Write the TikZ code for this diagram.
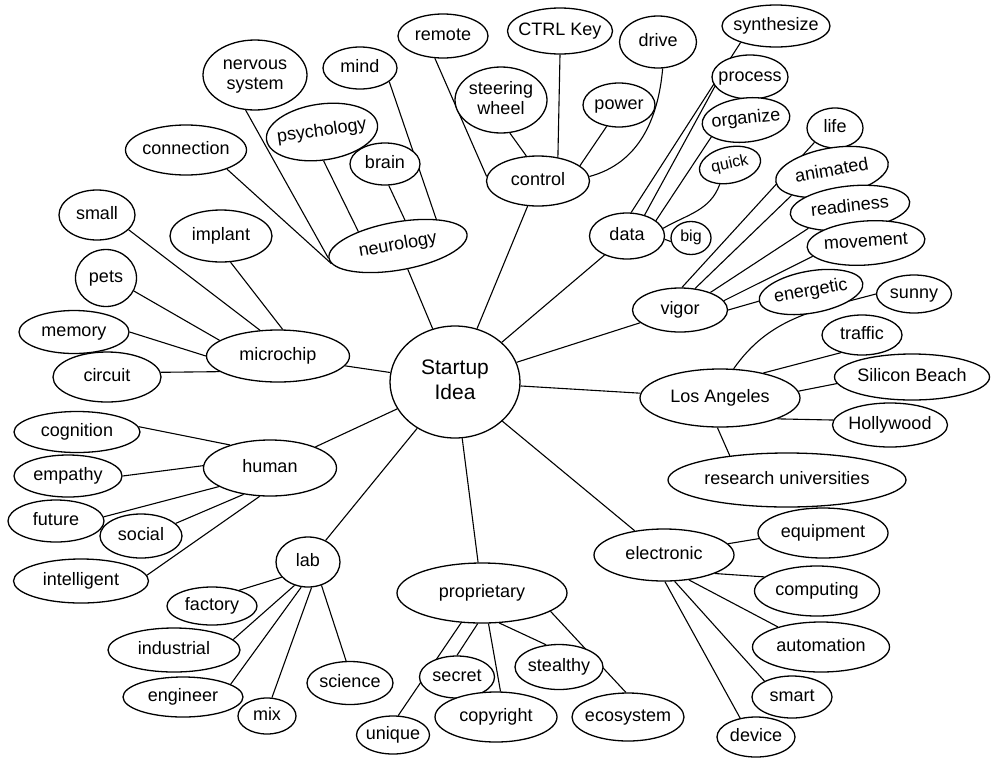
\documentclass[tikz,border=0pt]{standalone}
\usepackage{fontspec}
\setmainfont{Liberation Sans}
\usetikzlibrary{shapes.geometric,backgrounds}

% text that does not stretch the bubble
\newcommand{\word}[1]{\makebox[0pt]{\begin{tabular}{@{}c@{}}#1\end{tabular}}}

\tikzset{
  bubble/.style={draw, fill=white, ellipse, line width=1.3pt, inner sep=0pt,
    font=\fontsize{18}{20}\selectfont},
  sz/.style 2 args={minimum width=#1, minimum height=#2},
  link/.style={line width=1.1pt},
}

\begin{document}
\begin{tikzpicture}[x=1pt, y=-1pt]
    \useasboundingbox (0,0) rectangle (995,758);

    % centre
    \node[bubble, sz={130}{112}, font=\fontsize{21}{25}\selectfont] (idea) at (455,382) {\word{Startup\\Idea}};

    % branches
    \node[bubble, sz={140}{48}, rotate=10] (neuro) at (398,246) {\word{neurology}};
    \node[bubble, sz={103}{50}] (control) at (538,181) {\word{control}};
    \node[bubble, sz={75}{46}] (data) at (627,236) {\word{data}};
    \node[bubble, sz={95}{44}] (vigor) at (680,310) {\word{vigor}};
    \node[bubble, sz={160}{58}] (la) at (720,398) {\word{Los Angeles}};
    \node[bubble, sz={140}{52}] (elec) at (664,555) {\word{electronic}};
    \node[bubble, sz={170}{60}] (prop) at (482,593) {\word{proprietary}};
    \node[bubble, sz={64}{50}] (lab) at (308,562) {\word{lab}};
    \node[bubble, sz={133}{56}] (human) at (270,468) {\word{human}};
    \node[bubble, sz={143}{52}] (chip) at (278,356) {\word{microchip}};

    % neurology
    \node[bubble, sz={104}{70}] (nervous) at (255,75) {\word{nervous\\system}};
    \node[bubble, sz={74}{42}] (mind) at (360,68) {\word{mind}};
    \node[bubble, sz={112}{56}, rotate=8] (psych) at (322,132) {\word{psychology}};
    \node[bubble, sz={70}{42}] (brain) at (385,164) {\word{brain}};
    \node[bubble, sz={121}{50}] (connect) at (186,150) {\word{connection}};

    % control
    \node[bubble, sz={90}{44}] (remote) at (443,36) {\word{remote}};
    \node[bubble, sz={105}{46}] (ctrl) at (560,31) {\word{CTRL Key}};
    \node[bubble, sz={77}{52}] (drive) at (658,42) {\word{drive}};
    \node[bubble, sz={92}{66}] (steer) at (501,100) {\word{steering\\wheel}};
    \node[bubble, sz={72}{44}] (power) at (619,105) {\word{power}};

    % data
    \node[bubble, sz={108}{42}] (synth) at (776,26) {\word{synthesize}};
    \node[bubble, sz={76}{44}] (process) at (750,77) {\word{process}};
    \node[bubble, sz={88}{44}, rotate=6] (organize) at (746,120) {\word{organize}};
    \node[bubble, sz={62}{36}, rotate=12, font=\fontsize{16}{18}\selectfont] (quick) at (730,165) {\word{quick}};
    \node[bubble, sz={40}{33}, font=\fontsize{16}{18}\selectfont] (big) at (691,238) {\word{big}};

    % vigor
    \node[bubble, sz={56}{40}] (life) at (835,128) {\word{life}};
    \node[bubble, sz={114}{48}, rotate=10] (animated) at (832,172) {\word{animated}};
    \node[bubble, sz={120}{44}, rotate=6] (ready) at (850,208) {\word{readiness}};
    \node[bubble, sz={118}{44}, rotate=4] (move) at (866,243) {\word{movement}};
    \node[bubble, sz={105}{42}, rotate=10] (energy) at (811,292) {\word{energetic}};

    % Los Angeles
    \node[bubble, sz={75}{38}] (sunny) at (914,294) {\word{sunny}};
    \node[bubble, sz={80}{40}] (traffic) at (862,335) {\word{traffic}};
    \node[bubble, sz={155}{46}] (beach) at (912,377) {\word{Silicon Beach}};
    \node[bubble, sz={115}{44}] (holly) at (890,425) {\word{Hollywood}};
    \node[bubble, sz={238}{54}] (research) at (787,480) {\word{research universities}};

    % electronic
    \node[bubble, sz={130}{50}] (equip) at (823,533) {\word{equipment}};
    \node[bubble, sz={125}{50}] (comput) at (817,591) {\word{computing}};
    \node[bubble, sz={137}{50}] (auto) at (821,647) {\word{automation}};
    \node[bubble, sz={80}{42}] (smart) at (792,697) {\word{smart}};
    \node[bubble, sz={78}{40}] (device) at (756,737) {\word{device}};

    % proprietary
    \node[bubble, sz={73}{38}] (unique) at (393,735) {\word{unique}};
    \node[bubble, sz={75}{42}] (secret) at (457,677) {\word{secret}};
    \node[bubble, sz={122}{50}] (copy) at (496,717) {\word{copyright}};
    \node[bubble, sz={88}{45}] (stealth) at (559,667) {\word{stealthy}};
    \node[bubble, sz={112}{48}] (eco) at (628,717) {\word{ecosystem}};

    % lab
    \node[bubble, sz={90}{38}] (factory) at (212,606) {\word{factory}};
    \node[bubble, sz={132}{44}] (indust) at (174,650) {\word{industrial}};
    \node[bubble, sz={120}{40}] (engin) at (183,697) {\word{engineer}};
    \node[bubble, sz={58}{36}] (mix) at (267,716) {\word{mix}};
    \node[bubble, sz={86}{43}] (science) at (350,683) {\word{science}};

    % human
    \node[bubble, sz={126}{41}] (cogn) at (77,432) {\word{cognition}};
    \node[bubble, sz={108}{42}] (empathy) at (68,476) {\word{empathy}};
    \node[bubble, sz={96}{42}] (future) at (56,521) {\word{future}};
    \node[bubble, sz={82}{44}] (social) at (141,536) {\word{social}};
    \node[bubble, sz={135}{44}] (intel) at (81,581) {\word{intelligent}};

    % microchip
    \node[bubble, sz={76}{50}] (small) at (97,215) {\word{small}};
    \node[bubble, sz={102}{52}] (implant) at (221,236) {\word{implant}};
    \node[bubble, sz={61}{57}] (pets) at (106,278) {\word{pets}};
    \node[bubble, sz={110}{43}] (memory) at (74,332) {\word{memory}};
    \node[bubble, sz={108}{50}] (circuit) at (107,377) {\word{circuit}};

    \begin{pgfonlayer}{background}
    \fill[white] (0,0) rectangle (995,758);
    \foreach \b in {neuro,control,data,vigor,la,elec,prop,lab,human,chip}
        \draw[link] (idea) -- (\b);

    \draw[link] (nervous.255) -- (neuro.180);
    \draw[link] (connect.-25) -- (neuro.185);
    \draw[link] (psych.265) -- (neuro.150);
    \draw[link] (brain.280) -- (neuro.65);
    \draw[link] (mind.-25) -- (neuro.25);

    \draw[link] (remote.250) -- (control.175);
    \draw[link] (steer.285) -- (control.115);
    \draw[link] (ctrl.south) -- (control.50);
    \draw[link] (power.240) -- (control.20);
    \draw[link] (control.5) to[out=15, in=-95] (drive.280);

    \draw[link] (synth.205) -- (data.80);
    \draw[link] (process.195) -- (data.50);
    \draw[link] (organize.200) -- (data.28);
    \draw[link] (quick.230) to[out=-110, in=30] (data.12);
    \draw[link] (data.-5) -- (big.190);

    \draw[link] (life.215) -- (vigor.85);
    \draw[link] (animated.200) -- (vigor.55);
    \draw[link] (ready.200) -- (vigor.30);
    \draw[link] (move.190) -- (vigor.12);
    \draw[link] (energy.180) -- (vigor.0);

    \draw[link] (la.65) to[out=55, in=195] (sunny.180);
    \draw[link] (traffic.220) -- (la.30);
    \draw[link] (beach.185) -- (la.5);
    \draw[link] (holly.175) -- (la.-20);
    \draw[link] (la.265) -- (research.157);

    \draw[link] (elec.10) -- (equip.185);
    \draw[link] (elec.-20) -- (comput.165);
    \draw[link] (elec.-45) -- (auto.155);
    \draw[link] (elec.-68) -- (smart.150);
    \draw[link] (elec.-88) -- (device.130);

    \draw[link] (prop.235) -- (unique.75);
    \draw[link] (prop.262) -- (secret.north);
    \draw[link] (prop.282) -- (copy.80);
    \draw[link] (prop.300) -- (stealth.120);
    \draw[link] (prop.-15) -- (eco.95);

    \draw[link] (lab.210) -- (factory.30);
    \draw[link] (lab.240) -- (indust.10);
    \draw[link] (lab.255) -- (engin.15);
    \draw[link] (lab.278) -- (mix.75);
    \draw[link] (lab.300) -- (science.100);

    \draw[link] (cogn.5) -- (human.150);
    \draw[link] (empathy.0) -- (human.178);
    \draw[link] (future.5) -- (human.200);
    \draw[link] (social.20) -- (human.225);
    \draw[link] (intel.5) -- (human.250);

    \draw[link] (small.-25) -- (chip.125);
    \draw[link] (implant.-70) -- (chip.80);
    \draw[link] (pets.-25) -- (chip.165);
    \draw[link] (memory.0) -- (chip.180);
    \draw[link] (circuit.5) -- (chip.195);
    \end{pgfonlayer}
\end{tikzpicture}
\end{document}
